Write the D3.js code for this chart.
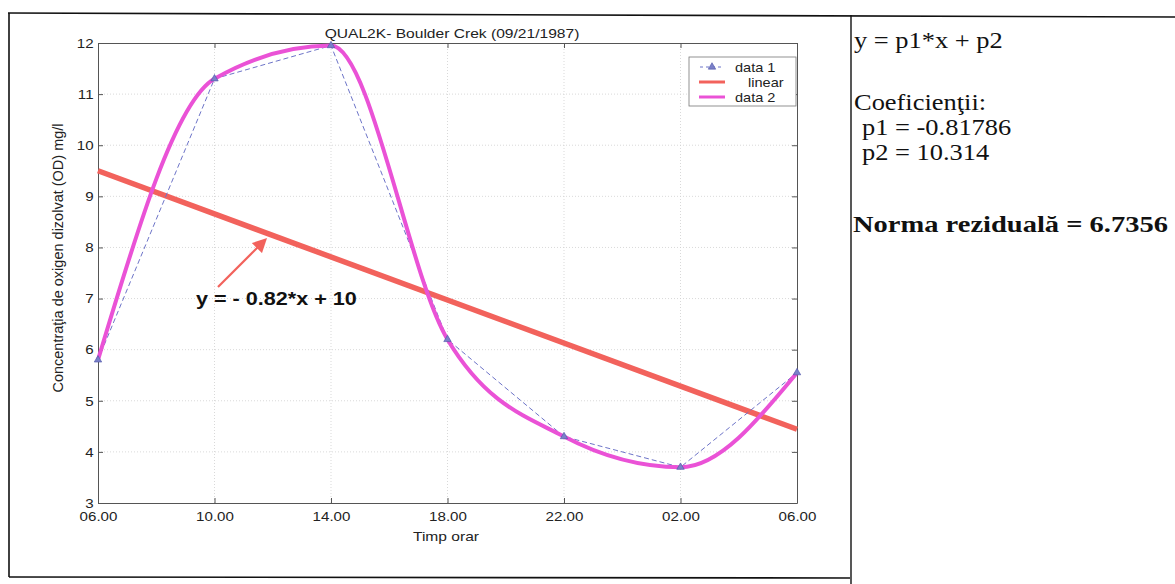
<!DOCTYPE html>
<html>
<head>
<meta charset="utf-8">
<script src="https://cdn.jsdelivr.net/npm/d3@7"></script>
<style>
  html, body { margin: 0; padding: 0; background: #fff; }
  svg { display: block; }
</style>
</head>
<body>
<svg id="chart" width="1175" height="584"></svg>
<script>
// ---------- data ----------
const xIndex = [1, 2, 3, 4, 5, 6, 7];
const hourLabels = ["06.00", "10.00", "14.00", "18.00", "22.00", "02.00", "06.00"];
const data1 = [5.8, 11.3, 11.95, 6.2, 4.3, 3.7, 5.55];
const data2 = [5.8, 11.3, 11.95, 6.2, 4.3, 3.7, 5.55];
const yTicks = [3, 4, 5, 6, 7, 8, 9, 10, 11, 12];
const p1 = -0.81786;
const p2 = 10.314;
const residualNorm = 6.7356;
const legendLabels = ["data 1", "linear", "data 2"];

const svg = d3.select("#chart");
const font = "'Liberation Sans', Arial, sans-serif";
const serif = "'Liberation Serif', 'Times New Roman', serif";

// helper: horizontally stretched text
function stext(parent, x, y, sx, txt) {
  return parent.append("text").attr("transform", `translate(${x},${y}) scale(${sx},1)`).text(txt);
}

// ---------- frames ----------
svg.append("line").attr("x1", 8).attr("y1", 13).attr("x2", 1175).attr("y2", 17)
  .attr("stroke", "#111").attr("stroke-width", 1.6);
svg.append("line").attr("x1", 9).attr("y1", 13).attr("x2", 9).attr("y2", 577)
  .attr("stroke", "#111").attr("stroke-width", 1.6);
svg.append("line").attr("x1", 9).attr("y1", 577).attr("x2", 850).attr("y2", 578)
  .attr("stroke", "#111").attr("stroke-width", 1.6);
svg.append("line").attr("x1", 851).attr("y1", 15).attr("x2", 851).attr("y2", 584)
  .attr("stroke", "#111").attr("stroke-width", 1.4);

// ---------- scales ----------
const x = d3.scaleLinear().domain([1, 7]).range([98, 797]);
const y = d3.scaleLinear().domain([3, 12]).range([503, 43]);

const g = svg.append("g");

// grid
g.append("g").selectAll("line").data(xIndex.slice(1, -1)).join("line")
  .attr("x1", d => x(d)).attr("x2", d => x(d)).attr("y1", y(3)).attr("y2", y(12))
  .attr("stroke", "#cfcfcf").attr("stroke-width", 0.8).attr("stroke-dasharray", "1,2");
g.append("g").selectAll("line").data(yTicks.slice(1, -1)).join("line")
  .attr("x1", x(1)).attr("x2", x(7)).attr("y1", d => y(d)).attr("y2", d => y(d))
  .attr("stroke", "#cfcfcf").attr("stroke-width", 0.8).attr("stroke-dasharray", "1,2");

// axes
const xAxis = d3.axisBottom(x).tickValues(xIndex).tickFormat((d, i) => hourLabels[i])
  .tickSizeInner(-5).tickSizeOuter(0).tickPadding(8);
const yAxis = d3.axisLeft(y).tickValues(yTicks).tickFormat(d3.format("d"))
  .tickSizeInner(-5).tickSizeOuter(0).tickPadding(4);

const gx = g.append("g").attr("transform", `translate(0,${y(3)})`).call(xAxis);
const gy = g.append("g").attr("transform", `translate(${x(1)},0)`).call(yAxis);
g.append("g").attr("transform", `translate(0,${y(12)})`)
  .call(d3.axisTop(x).tickValues(xIndex).tickFormat("").tickSizeInner(-5).tickSizeOuter(0));
g.append("g").attr("transform", `translate(${x(7)},0)`)
  .call(d3.axisRight(y).tickValues(yTicks).tickFormat("").tickSizeInner(-5).tickSizeOuter(0));

g.selectAll(".domain").attr("stroke", "#555").attr("stroke-width", 1);
g.selectAll(".tick line").attr("stroke", "#555");
gx.selectAll("text").attr("font-family", font).attr("font-size", 13.5).attr("fill", "#222")
  .attr("transform", "scale(1.12,1)");
gy.selectAll("text").attr("font-family", font).attr("font-size", 13.5).attr("fill", "#222")
  .attr("transform", "scale(1.12,1)");

// titles
stext(svg, 452, 38, 1.2, "QUAL2K- Boulder Crek (09/21/1987)")
  .attr("text-anchor", "middle").attr("font-family", font).attr("font-size", 13).attr("fill", "#222");
stext(svg, 446, 541, 1.2, "Timp orar")
  .attr("text-anchor", "middle").attr("font-family", font).attr("font-size", 13).attr("fill", "#222");
svg.append("text").attr("transform", "translate(63,258) rotate(-90)").attr("text-anchor", "middle")
  .attr("font-family", font).attr("font-size", 14.5).attr("fill", "#222")
  .text("Concentraţia de oxigen dizolvat (OD)  mg/l");

// ---------- series ----------
// least-squares linear fit of data 1 (as drawn by the "linear" basic fit)
const mx = d3.mean(xIndex), my = d3.mean(data1);
const slope = d3.sum(xIndex, (d, i) => (d - mx) * (data1[i] - my)) / d3.sum(xIndex, d => (d - mx) ** 2);
const inter = my - slope * mx;
const fitEnds = [xIndex[0], xIndex[xIndex.length - 1]].map(d => [d, slope * d + inter]);
g.append("path").datum(fitEnds)
  .attr("d", d3.line().x(d => x(d[0])).y(d => y(d[1])))
  .attr("fill", "none").attr("stroke", "#f2625c").attr("stroke-width", 5.5);

// data 1 dashed with triangles
const pts1 = xIndex.map((d, i) => [d, data1[i]]);
g.append("path").datum(pts1)
  .attr("d", d3.line().x(d => x(d[0])).y(d => y(d[1])))
  .attr("fill", "none").attr("stroke", "#6d74c8").attr("stroke-width", 1)
  .attr("stroke-dasharray", "5,3");

// data 2 smooth
const pts2 = xIndex.map((d, i) => [d, data2[i]]);
g.append("path").datum(pts2)
  .attr("d", d3.line().curve(d3.curveMonotoneX).x(d => x(d[0])).y(d => y(d[1])))
  .attr("fill", "none").attr("stroke", "#ea52d6").attr("stroke-width", 4);

const tri = d3.symbol().type(d3.symbolTriangle).size(24);
g.append("g").selectAll("path").data(pts1).join("path")
  .attr("d", tri).attr("transform", d => `translate(${x(d[0])},${y(d[1])})`)
  .attr("fill", "#7a80c8").attr("stroke", "#4b52a8").attr("stroke-width", 0.6);

// ---------- annotation ----------
const defs = svg.append("defs");
defs.append("marker").attr("id", "arrow").attr("viewBox", "0 0 10 10")
  .attr("refX", 6).attr("refY", 5).attr("markerWidth", 6.5).attr("markerHeight", 6.5)
  .attr("orient", "auto")
  .append("path").attr("d", "M0,0 L10,5 L0,10 z").attr("fill", "#f2625c");
svg.append("line").attr("x1", 218).attr("y1", 287).attr("x2", 263).attr("y2", 242)
  .attr("stroke", "#f2625c").attr("stroke-width", 2.2).attr("marker-end", "url(#arrow)");
stext(svg, 196, 305, 1.2, `y = - ${Math.abs(p1).toFixed(2)}*x + ${Math.round(p2)}`)
  .attr("font-family", font).attr("font-size", 18).attr("font-weight", "bold").attr("fill", "#111");

// ---------- legend ----------
const lg = svg.append("g");
lg.append("rect").attr("x", 689).attr("y", 57).attr("width", 107).attr("height", 49)
  .attr("fill", "#fff").attr("stroke", "#777").attr("stroke-width", 0.8);
const rowY = [67, 82, 97];
legendLabels.forEach((lab, i) => {
  const ry = rowY[i];
  if (i === 0) {
    lg.append("line").attr("x1", 700).attr("x2", 724).attr("y1", ry).attr("y2", ry)
      .attr("stroke", "#6d74c8").attr("stroke-width", 1).attr("stroke-dasharray", "3,3");
    lg.append("path").attr("d", tri).attr("transform", `translate(712,${ry})`)
      .attr("fill", "#7a80c8").attr("stroke", "#4b52a8").attr("stroke-width", 0.6);
  } else {
    lg.append("line").attr("x1", 699).attr("x2", 725).attr("y1", ry).attr("y2", ry)
      .attr("stroke", i === 1 ? "#f2625c" : "#ea52d6").attr("stroke-width", 3);
  }
  stext(lg, i === 1 ? 748 : 735, ry + 5, 1.12, lab)
    .attr("font-family", font).attr("font-size", 13).attr("fill", "#222");
});

// ---------- right panel ----------
const rp = svg.append("g").attr("font-family", serif).attr("fill", "#111");
const fs = 23, sx = 1.15;
stext(rp, 854, 48, sx, "y = p1*x + p2").attr("font-size", fs);
stext(rp, 854, 110, sx, "Coeficienţii:").attr("font-size", fs);
stext(rp, 862, 135, sx, `p1 = ${p1}`).attr("font-size", fs);
stext(rp, 862, 160, sx, `p2 = ${p2}`).attr("font-size", fs);
stext(rp, 853, 232, 1.24, `Norma reziduală =  ${residualNorm}`).attr("font-size", fs).attr("font-weight", "bold");
</script>
</body>
</html>
